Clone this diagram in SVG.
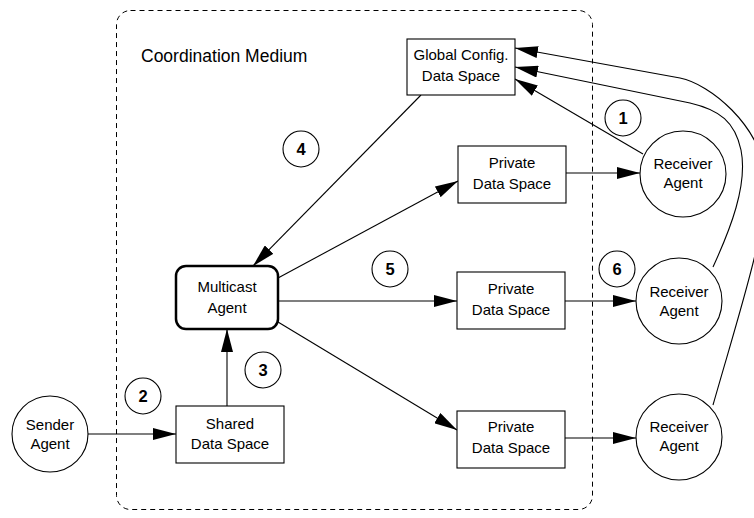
<svg xmlns="http://www.w3.org/2000/svg" width="754" height="518" viewBox="0 0 754 518">
<style>
text{font-family:"Liberation Sans",Arial,sans-serif;font-size:15px;fill:#000;text-anchor:middle}
.box{fill:#fff;stroke:#000;stroke-width:1.1}
.num{fill:#fff;stroke:#000;stroke-width:1.1}
.numt{font-weight:bold;font-size:16.5px}
.e{fill:none;stroke:#000;stroke-width:1.1;marker-end:url(#ah)}
</style>
<defs>
<marker id="ah" markerUnits="userSpaceOnUse" markerWidth="23" markerHeight="12" refX="23" refY="6" orient="auto" viewBox="0 0 23 12">
<path d="M0,0 L23,6 L0,12 z" fill="#000"/>
</marker>
</defs>
<rect x="116.5" y="10.5" width="476" height="499" rx="14" fill="none" stroke="#000" stroke-width="1" stroke-dasharray="5,4"/>
<text x="141" y="62" style="text-anchor:start;font-size:17.5px">Coordination Medium</text>
<g id="connectors">
<path class="e" d="M88,434 L176,434"/>
<path class="e" d="M227,406 L227,329"/>
<path class="e" d="M421,95 L253,266"/>
<path class="e" d="M278,278 L458,181"/>
<path class="e" d="M278,301 L457,301"/>
<path class="e" d="M278,322 L457,430"/>
<path class="e" d="M566,173 L640,173"/>
<path class="e" d="M565,301 L636,301"/>
<path class="e" d="M565,438 L636,438"/>
<path class="e" d="M643,154 L515,79"/>
<path class="e" d="M713,267 C730,230 748,185 741,150 C735,122 720,110 690,103 L515,67"/>
<path class="e" d="M713,405 C740,310 770,220 765,175 C760,125 710,84 680,78 L515,48"/>
</g>
<g id="global"><rect class="box" x="407" y="39" width="108" height="56"/><text x="461" y="60">Global Config.</text><text x="461" y="81">Data Space</text></g>
<g id="private1"><rect class="box" x="458" y="146" width="108" height="57"/><text x="512" y="168">Private</text><text x="512" y="189">Data Space</text></g>
<g id="private2"><rect class="box" x="457" y="272" width="108" height="57"/><text x="511" y="294">Private</text><text x="511" y="315">Data Space</text></g>
<g id="private3"><rect class="box" x="457" y="411" width="108" height="57"/><text x="511" y="432">Private</text><text x="511" y="453">Data Space</text></g>
<g id="multicast"><rect x="176" y="266" width="102" height="63" rx="10" fill="#fff" stroke="#000" stroke-width="2.5"/><text x="227" y="292">Multicast</text><text x="227" y="313">Agent</text></g>
<g id="shared"><rect class="box" x="176" y="406" width="108" height="57"/><text x="230" y="429">Shared</text><text x="230" y="449">Data Space</text></g>
<g id="sender"><circle class="box" cx="50" cy="434" r="38"/><text x="50" y="430">Sender</text><text x="50" y="449">Agent</text></g>
<g id="receiver1"><circle class="box" cx="683" cy="174" r="43"/><text x="683" y="169">Receiver</text><text x="683" y="188">Agent</text></g>
<g id="receiver2"><circle class="box" cx="679" cy="301" r="43"/><text x="679" y="297">Receiver</text><text x="679" y="316">Agent</text></g>
<g id="receiver3"><circle class="box" cx="679" cy="437" r="43"/><text x="679" y="432">Receiver</text><text x="679" y="451">Agent</text></g>
<g id="n1"><circle class="num" cx="623" cy="118" r="18"/><text class="numt" x="623" y="124">1</text></g>
<g id="n2"><circle class="num" cx="143" cy="396" r="18"/><text class="numt" x="143" y="402">2</text></g>
<g id="n3"><circle class="num" cx="263" cy="370" r="18"/><text class="numt" x="263" y="376">3</text></g>
<g id="n4"><circle class="num" cx="301" cy="149" r="18"/><text class="numt" x="301" y="155">4</text></g>
<g id="n5"><circle class="num" cx="390" cy="269" r="18"/><text class="numt" x="390" y="275">5</text></g>
<g id="n6"><circle class="num" cx="617" cy="269" r="18"/><text class="numt" x="617" y="275">6</text></g>
</svg>
